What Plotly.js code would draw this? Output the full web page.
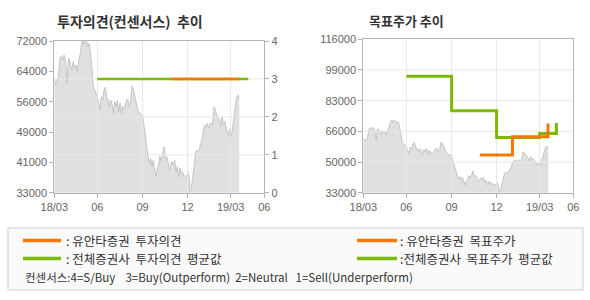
<!DOCTYPE html>
<html><head><meta charset="utf-8">
<script src="https://cdn.plot.ly/plotly-3.0.1.min.js"></script>
<style>html,body{margin:0;padding:0;background:#fff;}#c{width:590px;height:300px;}</style>
</head><body><div id="c"></div>
<script>
// ---- data (x in months since 2018/03) ----
var tickPos = [0, 2.93, 6.01, 9.07, 12.0];
var tickLabels = ["18/03", "06", "09", "12", "19/03", "06"];
var xEnd = 14.29;

var priceX = [0.00,0.11,0.20,0.29,0.39,0.48,0.57,0.66,0.75,0.84,0.88,0.95,1.02,1.11,1.20,1.29,1.38,1.47,1.57,1.66,1.75,1.84,1.93,2.02,2.11,2.20,2.29,2.38,2.47,2.56,2.65,2.74,2.84,2.93,3.02,3.11,3.20,3.29,3.38,3.47,3.56,3.65,3.74,3.83,3.92,4.02,4.11,4.20,4.29,4.38,4.47,4.56,4.65,4.74,4.83,4.92,5.01,5.10,5.20,5.29,5.38,5.47,5.56,5.65,5.74,5.83,5.92,6.01,6.10,6.19,6.28,6.38,6.47,6.56,6.65,6.74,6.83,6.92,7.01,7.10,7.19,7.28,7.37,7.46,7.55,7.65,7.74,7.83,7.92,8.01,8.10,8.19,8.28,8.37,8.46,8.55,8.64,8.73,8.82,8.92,9.01,9.10,9.19,9.23,9.32,9.41,9.51,9.60,9.69,9.78,9.87,9.96,10.05,10.14,10.23,10.32,10.41,10.50,10.59,10.69,10.78,10.87,10.96,11.05,11.14,11.23,11.32,11.41,11.50,11.59,11.68,11.77,11.86,11.96,12.05,12.14,12.23,12.32,12.41,12.50,12.59];
var priceY = [62400,60700,62000,62800,67500,68100,67100,68400,67500,64100,61100,67100,67500,65800,64500,66700,65000,65800,64100,67100,68400,71000,72300,71000,72300,71800,70500,71400,68800,65000,60300,59400,58100,57700,56000,54300,57700,56800,59400,60100,57700,56800,55100,56800,56000,53400,56400,55100,56800,53800,56000,53400,55100,54700,55500,56800,57000,55100,56400,60400,59600,57700,56000,54700,53800,53400,53000,53000,50000,47400,44800,42300,40500,41800,39700,41400,38800,37100,39300,40100,42300,41000,42700,44800,41800,42300,41000,38800,40100,41000,40100,41400,38400,39700,37100,39300,38000,38400,37100,37500,37100,38400,36700,33300,34100,36300,39700,43100,44000,43500,44000,45700,46500,48700,50400,50000,50800,49500,50800,50400,51300,55100,54300,53000,52100,51700,50000,52500,50800,51300,50000,48700,47800,49500,47400,50000,53000,56400,57700,58100,57300];

var opinionAvgX = [2.93, 13.2], opinionAvgY = [3, 3];
var opinionYuantaX = [7.94, 12.57], opinionYuantaY = [3, 3];
var targetAvgX = [2.93, 6.01, 9.07, 12.0, 13.14];
var targetAvgY = [96000, 77400, 62800, 65000, 70700];
var targetYuantaX = [7.93, 10.15, 12.57];
var targetYuantaY = [53400, 63300, 70500];

var leftTicks = [33000, 40800, 48600, 56400, 64200, 72000];
var leftTickText = ["33000", "41000", "49000", "56000", "64000", "72000"];
var rightTicks = [33000, 49600, 66200, 82800, 99400, 116000];
var rightTickText = ["33000", "50000", "66000", "83000", "99000", "116000"];
var opinionTicks = [0, 1, 2, 3, 4];

// ---- style ----
var ORANGE = '#f57800', GREEN = '#7cb900', GRID = '#e8e8e8', AXIS = '#b4b4b4';
var tickFont = {family: 'Liberation Sans, Arial, sans-serif', size: 11, color: '#666'};
var KFONT = 'Noto Sans CJK KR, sans-serif';
var NB = '\u00a0';
function px(x) { return x / 590; }
function py(y) { return 1 - y / 300; }

function vgrid(xa, ya, lo, hi) {
  var xs = [], ys = [];
  tickPos.slice(1).forEach(function (t) { xs.push(t, t, null); ys.push(lo, hi, null); });
  return {x: xs, y: ys, xaxis: xa, yaxis: ya, mode: 'lines', line: {color: GRID, width: 1}, hoverinfo: 'skip', showlegend: false};
}
function hgrid(xa, ya, vals, xmax) {
  var xs = [], ys = [];
  vals.forEach(function (v) { xs.push(0, xmax, null); ys.push(v, v, null); });
  return {x: xs, y: ys, xaxis: xa, yaxis: ya, mode: 'lines', line: {color: GRID, width: 1}, hoverinfo: 'skip', showlegend: false};
}
var area = {mode: 'lines', fill: 'tozeroy', fillcolor: '#e0e0e0', line: {color: '#c4c4c4', width: 1}, hoverinfo: 'skip', showlegend: false};

var traces = [
  Object.assign({x: priceX, y: priceY, xaxis: 'x', yaxis: 'y'}, area),
  vgrid('x', 'y3', 0, 4),
  hgrid('x', 'y3', [1, 2, 3], xEnd),
  {x: opinionAvgX, y: opinionAvgY, xaxis: 'x', yaxis: 'y3', mode: 'lines', line: {color: GREEN, width: 2.5}, showlegend: false},
  {x: opinionYuantaX, y: opinionYuantaY, xaxis: 'x', yaxis: 'y3', mode: 'lines', line: {color: ORANGE, width: 2.5}, showlegend: false},

  Object.assign({x: priceX, y: priceY, xaxis: 'x2', yaxis: 'y2'}, area),
  vgrid('x2', 'y2', 33000, 116000),
  hgrid('x2', 'y2', rightTicks.slice(1, 5), xEnd),
  {x: targetAvgX, y: targetAvgY, xaxis: 'x2', yaxis: 'y2', mode: 'lines', line: {color: GREEN, width: 3, shape: 'hv'}, showlegend: false},
  {x: targetYuantaX, y: targetYuantaY, xaxis: 'x2', yaxis: 'y2', mode: 'lines', line: {color: ORANGE, width: 3, shape: 'hv'}, showlegend: false}
];

function xax(domain, anchor) {
  return {domain: domain, anchor: anchor, range: [0, xEnd], tickmode: 'array', tickvals: tickPos.concat([xEnd]), ticktext: tickLabels,
    showgrid: false, zeroline: false, showline: true, linecolor: AXIS, linewidth: 1, mirror: true,
    ticks: 'outside', ticklen: 4, tickcolor: AXIS, tickfont: tickFont, fixedrange: true};
}
function yax(domain, anchor, range, vals, text) {
  return {domain: domain, anchor: anchor, range: range, tickmode: 'array', tickvals: vals, ticktext: text,
    showgrid: false, zeroline: false, showline: true, linecolor: AXIS, linewidth: 1, mirror: true,
    ticks: 'outside', ticklen: 4, tickcolor: AXIS, tickfont: tickFont, fixedrange: true};
}

var layout = {
  width: 590, height: 300, margin: {l: 0, r: 0, t: 0, b: 0},
  paper_bgcolor: '#fff', plot_bgcolor: '#fff', showlegend: false,
  xaxis: xax([px(54.3), px(264.3)], 'y'),
  yaxis: yax([py(192.7), py(41)], 'x', [33000, 72000], leftTicks, leftTickText),
  yaxis3: {overlaying: 'y', side: 'right', anchor: 'x', range: [0, 4], tickmode: 'array', tickvals: opinionTicks,
    showgrid: false, zeroline: false, showline: true, linecolor: AXIS, ticks: 'outside', ticklen: 4, tickcolor: AXIS,
    tickfont: tickFont, fixedrange: true},
  xaxis2: xax([px(363.3), px(573.3)], 'y2'),
  yaxis2: yax([py(192.7), py(39.3)], 'x2', [33000, 116000], rightTicks, rightTickText),
  shapes: [
    {type: 'rect', xref: 'paper', yref: 'paper', x0: px(8), x1: px(583), y0: py(228), y1: py(290), fillcolor: '#fafafa', line: {color: '#dedede', width: 1.5}, layer: 'below'},
    {type: 'line', xref: 'paper', yref: 'paper', x0: px(23), x1: px(61), y0: py(240.5), y1: py(240.5), line: {color: ORANGE, width: 3.5}},
    {type: 'line', xref: 'paper', yref: 'paper', x0: px(23), x1: px(61), y0: py(258.5), y1: py(258.5), line: {color: GREEN, width: 3.5}},
    {type: 'line', xref: 'paper', yref: 'paper', x0: px(357), x1: px(397), y0: py(240.5), y1: py(240.5), line: {color: ORANGE, width: 3.5}},
    {type: 'line', xref: 'paper', yref: 'paper', x0: px(357), x1: px(397), y0: py(258.5), y1: py(258.5), line: {color: GREEN, width: 3.5}}
  ],
  annotations: [
    {text: '<b>투자의견(컨센서스)' + NB + NB + '추이</b>', xref: 'paper', yref: 'paper', x: px(55), y: py(20.5), xanchor: 'left', yanchor: 'middle', showarrow: false, font: {family: KFONT, size: 14, color: '#333'}},
    {text: '<b>목표주가 추이</b>', xref: 'paper', yref: 'paper', x: px(367), y: py(20.5), xanchor: 'left', yanchor: 'middle', showarrow: false, font: {family: KFONT, size: 13, color: '#333'}},
    {text: ': 유안타증권' + NB + NB + '투자의견', xref: 'paper', yref: 'paper', x: px(64), y: py(240.5), xanchor: 'left', yanchor: 'middle', showarrow: false, font: {family: KFONT, size: 12.5, color: '#333'}},
    {text: ': 전체증권사' + NB + NB + '투자의견' + NB + NB + '평균값', xref: 'paper', yref: 'paper', x: px(64), y: py(258.5), xanchor: 'left', yanchor: 'middle', showarrow: false, font: {family: KFONT, size: 12.5, color: '#333'}},
    {text: ': 유안타증권' + NB + NB + '목표주가', xref: 'paper', yref: 'paper', x: px(398), y: py(240.5), xanchor: 'left', yanchor: 'middle', showarrow: false, font: {family: KFONT, size: 12.5, color: '#333'}},
    {text: ':전체증권사' + NB + NB + '목표주가' + NB + NB + '평균값', xref: 'paper', yref: 'paper', x: px(398), y: py(258.5), xanchor: 'left', yanchor: 'middle', showarrow: false, font: {family: KFONT, size: 12.5, color: '#333'}},
    {text: '컨센서스:4=S/Buy' + NB + NB + NB + NB + '3=Buy(Outperform)' + NB + NB + '2=Neutral' + NB + NB + NB + '1=Sell(Underperform)', xref: 'paper', yref: 'paper', x: px(23), y: py(277), xanchor: 'left', yanchor: 'middle', showarrow: false, font: {family: KFONT, size: 11.5, color: '#333'}}
  ]
};

Plotly.newPlot('c', traces, layout, {staticPlot: true, displayModeBar: false});
</script></body></html>
